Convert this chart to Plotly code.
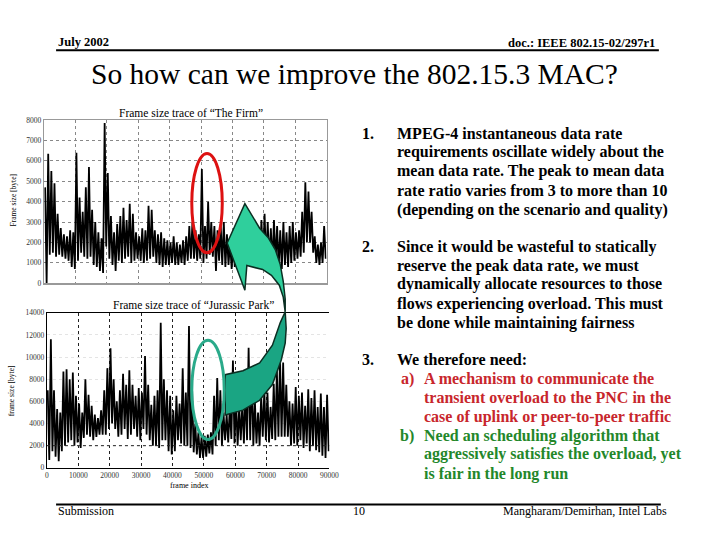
import plotly.graph_objects as go

W, H = 720, 540
FRAME_STEP = 1000

# --- Data: per-1000-frame peak (hi) and trough (lo), bytes ---
firm_hi = [4700, 6350, 5500, 4900, 3400, 2700, 2400, 2300, 2600, 2500,
           6400, 4200, 3500, 4700, 5700, 3600, 3000, 2500, 2200, 7850,
           5400, 3300, 2500, 2900, 3300, 3700, 3100, 3900, 3400, 2500,
           2300, 2700, 2600, 3800, 3600, 2600, 2400, 2500, 2200, 2100,
           2000, 2300, 2000, 1900, 2100, 2300, 2800, 3000, 2600, 2400,
           5600, 2800, 4000, 3000, 2800, 2600, 2900, 3000, 2400, 2000,
           1900, 2200, 2400, 2600, 2300, 2400, 2800, 3000, 2700, 3100,
           3400, 3000, 2700, 3100, 2800, 2600, 3000, 2500, 2800, 3000,
           2500, 2600, 3500, 4950, 4500, 3500, 2300, 1900, 2000, 2800]
firm_lo = [0, 1400, 1500, 1300, 1400, 1300, 1200, 1100, 800, 700,
           1100, 1500, 1300, 1200, 1300, 900, 800, 600, 500, 1800,
           1200, 900, 600, 1100, 1000, 1200, 1300, 1000, 1100, 1200,
           1100, 1000, 1100, 1200, 1300, 1000, 900, 800, 900, 900,
           1000, 900, 900, 1000, 900, 1100, 1200, 1200, 1100, 1200,
           1000, 1200, 1400, 1300, 600, 1100, 900, 800, 900, 700,
           800, 700, 800, 900, 900, 1000, 1000, 1100, 1000, 1000,
           1100, 1000, 900, 1000, 800, 700, 900, 800, 1000, 1100,
           1200, 1300, 1500, 2000, 2000, 1500, 1000, 900, 1000, 1200]

jp_hi = [7000, 11600, 7000, 5300, 5000, 8700, 8900, 8000, 8600, 6500,
         5800, 5000, 8000, 6600, 5600, 4800, 4500, 5200, 7000, 9000,
         10800, 8000, 6000, 7000, 8500, 7500, 8800, 7500, 6500, 7200,
         6800, 10100, 7500, 5700, 6500, 7000, 13100, 8000, 7000, 6500,
         5200, 6500, 5800, 9000, 6800, 12800, 7000, 4000, 3200, 2800,
         2900, 3000, 3200, 6500, 8100, 7000, 5000, 4800, 5500, 9700,
         6000, 5500, 5800, 7000, 10850, 8800, 6000, 5000, 6500, 7000,
         6800, 5500, 7600, 8800, 10000, 9500, 7500, 6000, 5800, 7300,
         6500, 6800, 5600, 7100, 6300, 7000, 5500, 6700, 5500, 6600]
jp_lo = [700, 1500, 1000, 600, 1500, 2000, 2300, 2500, 2000, 2300,
         1800, 2700, 3000, 2800, 2500, 2800, 3000, 3000, 3000, 3500,
         4000, 3500, 2800, 3000, 3500, 2600, 3000, 3500, 2800, 2500,
         3500, 3000, 2500, 2000, 2000, 1800, 2500, 2500, 1500, 1200,
         1500, 2500, 2200, 2000, 2000, 1800, 1400, 1200, 900, 900,
         1000, 1300, 1200, 2000, 2500, 2000, 2500, 2300, 2600, 2200,
         2000, 2500, 2200, 2500, 2500, 2000, 2200, 2000, 2800, 2500,
         2300, 2600, 2500, 2800, 2800, 2800, 2800, 2000, 2200, 2000,
         2500, 1800, 2200, 1500, 2000, 1600, 1400, 1100, 900, 1500]

x_ticks = [0, 10000, 20000, 30000, 40000, 50000, 60000, 70000, 80000, 90000]
firm_y_ticks = [0, 1000, 2000, 3000, 4000, 5000, 6000, 7000, 8000]
jp_y_ticks = [0, 2000, 4000, 6000, 8000, 10000, 12000, 14000]
JP_DARK_GRID = 2000

item1 = ["MPEG-4 instantaneous data rate",
         "requirements oscillate widely about the",
         "mean data rate. The peak to mean data",
         "rate ratio varies from 3 to more than 10",
         "(depending on the scenario and quality)"]
item2 = ["Since it would be wasteful to statically",
         "reserve the peak data rate, we must",
         "dynamically allocate resources to those",
         "flows experiencing overload. This must",
         "be done while maintaining fairness"]
item3 = "We therefore need:"
item3a = ["A mechanism to communicate the",
          "transient overload to the PNC in the",
          "case of uplink or peer-to-peer traffic"]
item3b = ["Need an scheduling algorithm that",
          "aggressively satisfies the overload, yet",
          "is fair in the long run"]


def zig(hi, lo):
    xs, ys = [], []
    for i, (h, l) in enumerate(zip(hi, lo)):
        xs += [i * FRAME_STEP + 250, i * FRAME_STEP + 750]
        ys += [h, l]
    return xs, ys


def PX(x):
    return x / W


def PY(y):
    return 1 - y / H


SERIF = "Liberation Serif, Times New Roman, serif"

fig = go.Figure()
fx, fy = zig(firm_hi, firm_lo)
jx, jy = zig(jp_hi, jp_lo)
fig.add_trace(go.Scatter(x=fx, y=fy, mode="lines", line=dict(color="black", width=1.8),
                         xaxis="x", yaxis="y", showlegend=False, hoverinfo="skip"))
fig.add_trace(go.Scatter(x=jx, y=jy, mode="lines", line=dict(color="black", width=1.8),
                         xaxis="x2", yaxis="y2", showlegend=False, hoverinfo="skip"))

tickfont = dict(family=SERIF, size=7.5, color="#333")
fig.update_layout(
    width=W, height=H, autosize=False,
    margin=dict(l=0, r=0, t=0, b=0),
    paper_bgcolor="white", plot_bgcolor="white",
    showlegend=False,
    xaxis=dict(domain=[PX(43), PX(330)], anchor="y", range=[0, 90000],
               tickvals=x_ticks, showticklabels=False, ticks="",
               showgrid=True, gridcolor="#888", griddash="dot", gridwidth=1,
               showline=True, mirror=True, linecolor="#999", linewidth=1.5, zeroline=False),
    yaxis=dict(domain=[PY(284), PY(118)], anchor="x", range=[0, 8000],
               tickvals=firm_y_ticks, tickformat="d", ticks="", tickfont=tickfont,
               showgrid=True, gridcolor="#888", griddash="dot", gridwidth=1,
               showline=True, mirror=True, linecolor="#999", linewidth=1.5, zeroline=False),
    xaxis2=dict(domain=[PX(45.7), PX(333)], anchor="y2", range=[0, 90000],
                tickvals=x_ticks, tickformat="d", ticks="", tickfont=tickfont,
                showgrid=True, gridcolor="#222", griddash="dot", gridwidth=1,
                showline=True, mirror=True, linecolor="black", linewidth=1.2, zeroline=False),
    yaxis2=dict(domain=[PY(471.7), PY(314)], anchor="x2", range=[0, 14000],
                tickvals=jp_y_ticks, tickformat="d", ticks="", tickfont=tickfont,
                showgrid=True, gridcolor="#e4e4e4", griddash="dot", gridwidth=1,
                showline=True, linecolor="black", linewidth=1.2, zeroline=False),
)

shapes = []
# dark dotted gridline at 2000 on the Jurassic Park panel
shapes.append(dict(type="line", xref="x2", yref="y2", x0=0, x1=90000,
                   y0=JP_DARK_GRID, y1=JP_DARK_GRID,
                   line=dict(color="#222", width=1, dash="dot")))
# header and footer rules
shapes.append(dict(type="line", xref="paper", yref="paper", x0=PX(55), x1=PX(668),
                   y0=PY(47), y1=PY(47), line=dict(color="black", width=2)))
shapes.append(dict(type="line", xref="paper", yref="paper", x0=PX(55), x1=PX(670),
                   y0=PY(509), y1=PY(509), line=dict(color="black", width=2)))


def path(points):
    s = "M %.5f,%.5f " % (PX(points[0][0]), PY(points[0][1]))
    for (x, y) in points[1:]:
        s += "L %.5f,%.5f " % (PX(x), PY(y))
    return s + "Z"


upper = [(229, 243), (247, 203), (262, 228), (271, 238), (278, 250), (283, 265),
         (286, 282), (288, 300), (288, 313), (286, 298), (282, 286), (274, 276),
         (265, 270), (249, 266), (247, 291)]
lower = [(288, 313), (289, 330), (288, 345), (284, 362), (275, 387), (262, 403),
         (245, 413), (227, 418), (227, 377), (245, 373), (262, 365), (275, 347),
         (283, 324), (288, 313)]
shapes.append(dict(type="path", xref="paper", yref="paper", path=path(upper),
                   fillcolor="#2fcf9c", line=dict(color="#0b2e22", width=1.5), layer="above"))
shapes.append(dict(type="path", xref="paper", yref="paper", path=path(lower),
                   fillcolor="#1aa583", line=dict(color="#0b2e22", width=1.5), layer="above"))
# ellipses
shapes.append(dict(type="circle", xref="paper", yref="paper", x0=PX(193), x1=PX(224),
                   y0=PY(253), y1=PY(152), line=dict(color="#dd1111", width=3)))
shapes.append(dict(type="circle", xref="paper", yref="paper", x0=PX(193), x1=PX(226),
                   y0=PY(443), y1=PY(342), line=dict(color="#2aaa8a", width=3)))
fig.update_layout(shapes=shapes)

ann = []


def txt(x, y, s, size=16, color="black", bold=True, anchor="left", angle=0):
    ann.append(dict(x=PX(x), y=PY(y), xref="paper", yref="paper", text=s,
                    showarrow=False, xanchor=anchor, yanchor="middle", textangle=angle,
                    font=dict(family=SERIF, size=size, color=color,
                              weight="bold" if bold else "normal")))


txt(55, 39, "July 2002", size=12.5)
txt(666, 40, "doc.: IEEE 802.15-02/297r1", size=12.5, anchor="right")
txt(358, 71, "So how can we improve the 802.15.3 MAC?", size=29.5, bold=False, anchor="center")
txt(55, 516, "Submission", size=12, bold=False)
txt(363, 516, "10", size=12, bold=False, anchor="center")
txt(678, 516, "Mangharam/Demirhan, Intel Labs", size=12, bold=False, anchor="right")

txt(192, 111, "Frame size trace of “The Firm”", size=11.5, bold=False, anchor="center")
txt(195, 306, "Frame size trace of “Jurassic Park”", size=11.5, bold=False, anchor="center")
txt(12, 200, "Frame size [byte]", size=7.5, bold=False, anchor="center", angle=-90)
txt(10, 393, "frame size [byte]", size=7.5, bold=False, anchor="center", angle=-90)
txt(190, 490, "frame index", size=8, bold=False, anchor="center")

ys1 = [132, 151, 170, 190, 209]
ys2 = [247, 266, 285, 305, 324]
txt(364, ys1[0], "1.")
for y, s in zip(ys1, item1):
    txt(400, y, s)
txt(364, ys2[0], "2.")
for y, s in zip(ys2, item2):
    txt(400, y, s)
txt(364, 362, "3.")
txt(400, 362, item3)
RED = "#c8262c"
GREEN = "#23872a"
ysa = [381, 400, 420]
ysb = [439, 458, 478]
txt(404, ysa[0], "a)", color=RED)
for y, s in zip(ysa, item3a):
    txt(427, y, s, color=RED)
txt(403, ysb[0], "b)", color=GREEN)
for y, s in zip(ysb, item3b):
    txt(427, y, s, color=GREEN)

fig.update_layout(annotations=ann)
fig.write_html(
    "out.html",
    config={"displayModeBar": False, "staticPlot": True},
    post_script=(
        "var s=document.createElement('style');"
        "s.textContent='html,body{margin:0!important;padding:0!important;"
        "overflow:hidden!important;}';"
        "document.head.appendChild(s);"
        "var gd=document.getElementById('{plot_id}');"
        "var vw=document.documentElement.clientWidth||window.innerWidth;"
        "var vh=document.documentElement.clientHeight||window.innerHeight;"
        "if(vw>100&&vh>100&&(vw!==720||vh!==540)){Plotly.relayout(gd,{width:vw,height:vh});}"
    ),
)
